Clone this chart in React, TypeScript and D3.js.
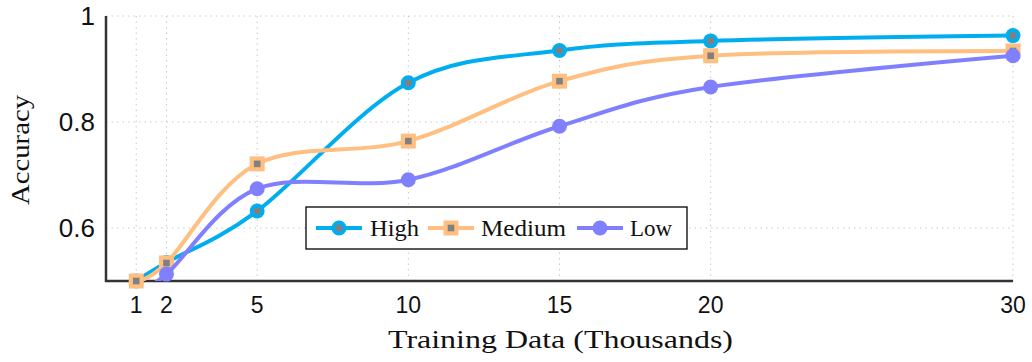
import React from 'react';
import * as d3 from 'd3';

const xTicks = [1, 2, 5, 10, 15, 20, 30];
const yTicks = [0.6, 0.8, 1];
const seriesNames = ['High', 'Medium', 'Low'];
const highValues = [0.5, 0.535, 0.632, 0.874, 0.935, 0.953, 0.963];
const mediumValues = [0.5, 0.534, 0.721, 0.764, 0.877, 0.925, 0.934];
const lowValues = [0.48, 0.513, 0.674, 0.691, 0.792, 0.866, 0.925];
const colors = ['#00AEEF', '#FFBF80', '#8080FF'];
const markers = ['circle', 'square', 'dot'];

const W = 1032;
const H = 362;
const m = { left: 106, right: 1013, top: 16, bottom: 281 };
const serif = "'Liberation Serif', 'Times New Roman', serif";

export default function App() {
  const x = d3.scaleLinear().domain([0, 30]).range([m.left, m.right]);
  const y = d3.scaleLinear().domain([0.5, 1]).range([m.bottom, m.top]);
  const allValues = [highValues, mediumValues, lowValues];
  const line = d3
    .line<[number, number]>()
    .x((d) => x(d[0]))
    .y((d) => y(d[1]))
    .curve(d3.curveCardinal.tension(0));

  const renderMarker = (kind: string, color: string, cx: number, cy: number, key: any) => {
    if (kind === 'circle') {
      return (
        <g key={key}>
          <circle cx={cx} cy={cy} r={7.5} fill={color} />
          <circle cx={cx} cy={cy} r={3.6} fill="#808080" />
        </g>
      );
    }
    if (kind === 'square') {
      return (
        <g key={key}>
          <rect x={cx - 7.5} y={cy - 7.5} width={15} height={15} fill={color} />
          <rect x={cx - 3.3} y={cy - 3.3} width={6.6} height={6.6} fill="#808080" />
        </g>
      );
    }
    return <circle key={key} cx={cx} cy={cy} r={7.5} fill={color} />;
  };

  const legendItems = [
    { lx: 316, tx: 370, len: 49 },
    { lx: 428, tx: 481, len: 85 },
    { lx: 577, tx: 630, len: 42 },
  ];
  const legendY = 228;

  return (
    <svg
      width={W}
      height={H}
      style={{ position: 'absolute', left: 0, top: 0, display: 'block', background: '#fff' }}
    >
      <defs>
        <clipPath id="plotClip">
          <rect x={m.left} y={m.top} width={m.right - m.left} height={m.bottom - m.top} />
        </clipPath>
      </defs>
      {/* grid */}
      <g stroke="#c8c8c8" strokeWidth={1} strokeDasharray="1.5 4">
        {yTicks.map((t) => (
          <line key={'gy' + t} x1={m.left} x2={m.right} y1={y(t)} y2={y(t)} />
        ))}
        {xTicks.map((t) => (
          <line key={'gx' + t} x1={x(t)} x2={x(t)} y1={m.top} y2={m.bottom} />
        ))}
      </g>
      {/* axes */}
      <line x1={m.left} x2={m.left} y1={m.top} y2={m.bottom + 1} stroke="#333" strokeWidth={2.5} />
      <line x1={m.left - 1} x2={m.right} y1={m.bottom} y2={m.bottom} stroke="#333" strokeWidth={2.5} />
      {/* tick labels */}
      <g fontFamily="'Liberation Sans', Arial, sans-serif" fill="#111">
        {yTicks.map((t) => (
          <text key={'ty' + t} x={m.left - 11} y={y(t) + 9} fontSize={26} textAnchor="end">
            {t === 1 ? '1' : d3.format('.1f')(t)}
          </text>
        ))}
        {xTicks.map((t) => (
          <text key={'tx' + t} x={x(t)} y={313} fontSize={23} textAnchor="middle">
            {t}
          </text>
        ))}
      </g>
      {/* axis labels */}
      <text
        x={(m.left + m.right) / 2 + 1}
        y={348}
        textAnchor="middle"
        fontFamily={serif}
        fontSize={25}
        textLength={345}
        lengthAdjust="spacingAndGlyphs"
        fill="#111"
      >
        Training Data (Thousands)
      </text>
      <text
        transform={`translate(29,150) rotate(-90)`}
        textAnchor="middle"
        fontFamily={serif}
        fontSize={25}
        textLength={110}
        lengthAdjust="spacingAndGlyphs"
        fill="#111"
      >
        Accuracy
      </text>
      {/* series */}
      {allValues.map((vals, i) => {
        const pts = xTicks.map((xv, j) => [xv, vals[j]] as [number, number]);
        return (
          <g key={'s' + i}>
            <path
              d={line(pts) || ''}
              fill="none"
              stroke={colors[i]}
              strokeWidth={4}
              clipPath="url(#plotClip)"
            />
            {pts
              .filter((p) => p[1] >= 0.5)
              .map((p, j) => renderMarker(markers[i], colors[i], x(p[0]), y(p[1]), j))}
          </g>
        );
      })}
      {/* legend */}
      <rect x={306} y={207} width={381} height={42} fill="#fff" stroke="#000" strokeWidth={1.3} />
      {seriesNames.map((name, i) => (
        <g key={'l' + i}>
          <line
            x1={legendItems[i].lx}
            x2={legendItems[i].lx + 46}
            y1={legendY}
            y2={legendY}
            stroke={colors[i]}
            strokeWidth={4}
          />
          {renderMarker(markers[i], colors[i], legendItems[i].lx + 23, legendY, 'm')}
          <text
            x={legendItems[i].tx}
            y={legendY + 8}
            fontFamily={serif}
            fontSize={23}
            textLength={legendItems[i].len}
            lengthAdjust="spacingAndGlyphs"
            fill="#111"
          >
            {name}
          </text>
        </g>
      ))}
    </svg>
  );
}
